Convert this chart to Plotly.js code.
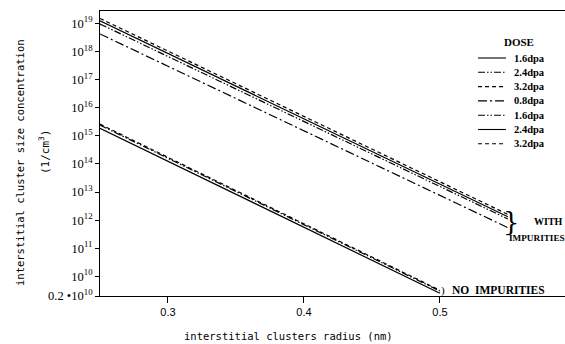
<!DOCTYPE html>
<html>
<head>
<meta charset="utf-8">
<script src="https://cdn.plot.ly/plotly-3.0.1.min.js"></script>
<style>
html,body{margin:0;padding:0;background:#fff;}
#chart{width:565px;height:344px;}
</style>
</head>
<body>
<div id="chart"></div>
<script>
// Data (concentration, 1/cm^3)
const xNoImp = [0.25, 0.5];
const xWithImp = [0.25, 0.55];

const noImp16 = [1.86e15, 2.5e9];
const noImp24 = [2.4e15, 3.0e9];
const noImp32 = [2.6e15, 3.2e9];

const imp08 = [4.2e18, 5.4e11];
const imp16 = [9.5e18, 1.1e12];
const imp24 = [1.23e19, 1.32e12];
const imp32 = [1.5e19, 1.6e12];

const doseLabels = ['1.6dpa', '2.4dpa', '3.2dpa', '0.8dpa', '1.6dpa', '2.4dpa', '3.2dpa'];

const yTickVals = [2e9, 1e10, 1e11, 1e12, 1e13, 1e14, 1e15, 1e16, 1e17, 1e18, 1e19];
const yTickText = ['0.2 •10<sup>10</sup>', '10<sup>10</sup>', '10<sup>11</sup>', '10<sup>12</sup>', '10<sup>13</sup>',
  '10<sup>14</sup>', '10<sup>15</sup>', '10<sup>16</sup>', '10<sup>17</sup>', '10<sup>18</sup>', '10<sup>19</sup>'];
const xTickVals = [0.3, 0.4, 0.5];
const xTickText = ['0.3', '0.4', '0.5'];

const SOLID = 'solid';
const DASHDOTDOT = '7px,2px,1.5px,2px,1.5px,2px';
const DASHED = '4px,3px';
const DASHDOT = '9px,3px,2px,3px';

const series = [
  {x: xNoImp, y: noImp16, dash: SOLID},
  {x: xNoImp, y: noImp24, dash: DASHDOTDOT},
  {x: xNoImp, y: noImp32, dash: DASHED},
  {x: xWithImp, y: imp08, dash: DASHDOT},
  {x: xWithImp, y: imp16, dash: DASHDOTDOT},
  {x: xWithImp, y: imp24, dash: SOLID},
  {x: xWithImp, y: imp32, dash: DASHED}
];

const data = series.map((s, i) => ({
  x: s.x, y: s.y, name: doseLabels[i], type: 'scatter', mode: 'lines',
  showlegend: false,
  line: {color: '#000', width: 1.2, dash: s.dash}
}));

// Hand-drawn legend (paper coordinates)
const H = 285; // plot height in px
const legTop = 58 - 11, legStep = 14.3;
const shapes = [];
const annotations = [];
annotations.push({xref: 'paper', yref: 'paper', x: 0.9, y: 1 - (42 - 11) / H, text: '<b>DOSE</b>',
  showarrow: false, xanchor: 'center', yanchor: 'middle',
  font: {family: 'Liberation Serif, serif', size: 11}});
series.forEach((s, i) => {
  const yy = 1 - (legTop + legStep * i) / H;
  shapes.push({type: 'line', xref: 'paper', yref: 'paper', x0: 0.813, x1: 0.873, y0: yy, y1: yy,
    line: {color: '#000', width: 1.1, dash: s.dash}});
  annotations.push({xref: 'paper', yref: 'paper', x: 0.886, y: yy, text: '<b>' + doseLabels[i] + '</b>',
    showarrow: false, xanchor: 'left', yanchor: 'middle',
    font: {family: 'Liberation Serif, serif', size: 10.5}});
});

annotations.push(
  {xref: 'paper', yref: 'paper', x: 0.862, y: 0.258, text: '}', showarrow: false,
    font: {family: 'DejaVu Serif, serif', size: 26}, xanchor: 'left', yanchor: 'middle'},
  {xref: 'paper', yref: 'paper', x: 0.93, y: 0.262, text: '<b>WITH</b>', showarrow: false,
    font: {family: 'Liberation Serif, serif', size: 10}, xanchor: 'left', yanchor: 'middle'},
  {xref: 'paper', yref: 'paper', x: 0.876, y: 0.203, text: '<b>IMPURITIES</b>', showarrow: false,
    font: {family: 'Liberation Serif, serif', size: 9.2}, xanchor: 'left', yanchor: 'middle'},
  {xref: 'paper', yref: 'paper', x: 0.73, y: 0.018, text: ')', showarrow: false,
    font: {family: 'Liberation Serif, serif', size: 11}, xanchor: 'left', yanchor: 'middle'},
  {xref: 'paper', yref: 'paper', x: 0.753, y: 0.02, text: '<b>NO  IMPURITIES</b>', showarrow: false,
    font: {family: 'Liberation Serif, serif', size: 11.5}, xanchor: 'left', yanchor: 'middle'},
  // axis titles
  {xref: 'paper', yref: 'paper', x: (288 - 100) / 465, y: -(336 - 296) / H, text: 'interstitial clusters radius (nm)',
    showarrow: false, xanchor: 'center', yanchor: 'middle',
    font: {family: 'DejaVu Sans Mono, monospace', size: 10.5}},
  {xref: 'paper', yref: 'paper', x: -(100 - 20) / 465, y: 1 - (163 - 11) / H, text: 'interstitial cluster size concentration',
    showarrow: false, xanchor: 'center', yanchor: 'middle', textangle: -90,
    font: {family: 'DejaVu Sans Mono, monospace', size: 10.5}},
  {xref: 'paper', yref: 'paper', x: -(100 - 44) / 465, y: 1 - (152 - 11) / H, text: '(1/cm<sup>3</sup>)',
    showarrow: false, xanchor: 'center', yanchor: 'middle', textangle: -90,
    font: {family: 'DejaVu Sans Mono, monospace', size: 11}}
);

const layout = {
  width: 565, height: 344,
  margin: {l: 100, r: 0, t: 11, b: 48},
  paper_bgcolor: '#fff', plot_bgcolor: '#fff',
  font: {family: 'Liberation Sans, Arial, sans-serif', color: '#000', size: 11},
  showlegend: false,
  xaxis: {
    range: [0.25, 0.592],
    tickvals: xTickVals, ticktext: xTickText,
    ticks: 'outside', ticklen: 6, tickcolor: '#000',
    showline: true, linecolor: '#000', linewidth: 1, mirror: true,
    showgrid: false, zeroline: false,
    tickfont: {family: 'Liberation Sans, Arial, sans-serif', size: 11}
  },
  yaxis: {
    type: 'log',
    range: [Math.log10(2e9), 19.44],
    tickvals: yTickVals, ticktext: yTickText,
    ticks: 'outside', ticklen: 4, tickcolor: '#000',
    showline: true, linecolor: '#000', linewidth: 1, mirror: false,
    showgrid: false, zeroline: false,
    tickfont: {family: 'Liberation Serif, serif', size: 12.5}
  },
  shapes: shapes,
  annotations: annotations
};

Plotly.newPlot('chart', data, layout, {displayModeBar: false, staticPlot: true});
</script>
</body>
</html>
